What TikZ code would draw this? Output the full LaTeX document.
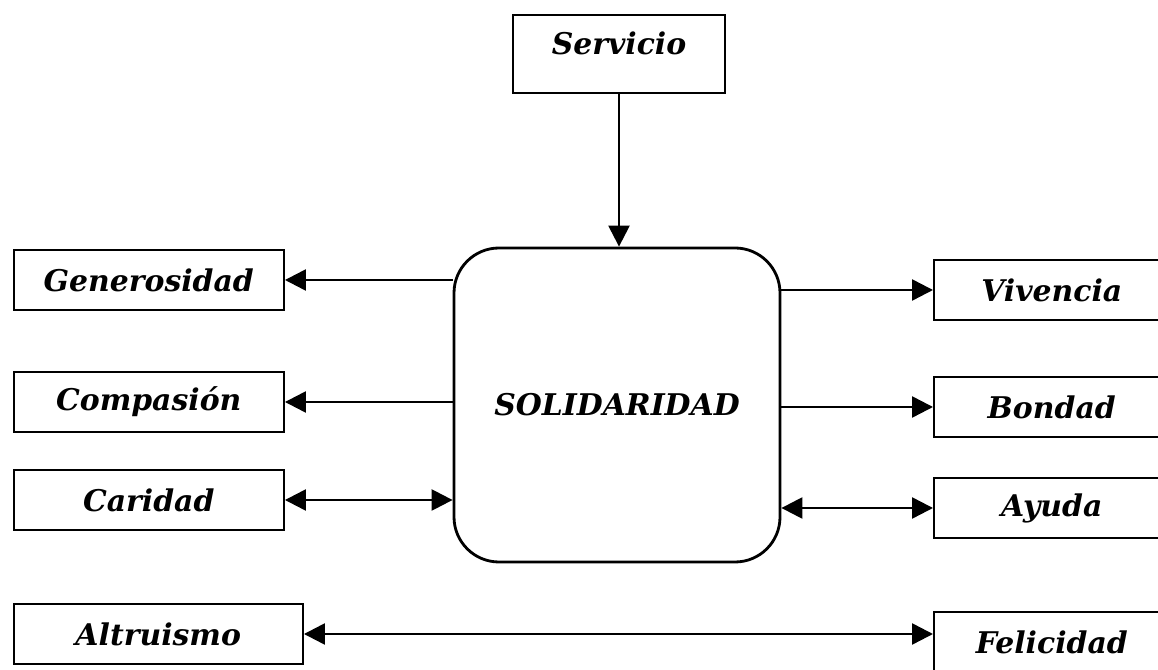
\documentclass[tikz,border=0pt]{standalone}
\usepackage{fontspec}
\setmainfont{DejaVu Serif}
\usepackage{tikz}
\usetikzlibrary{arrows.meta}
\usetikzlibrary{positioning}

\begin{document}
\begin{tikzpicture}[
	>={Triangle[length=0.42cm,width=0.42cm]},
	every node/.style={font=\fontsize{17}{20}\selectfont\bfseries\itshape},
	word/.style={draw,line width=1.4pt,minimum height=1.2cm,inner sep=0pt,anchor=west},
	core/.style={draw,line width=1.6pt,rounded corners=0.9cm,minimum width=6.52cm,minimum height=6.28cm},
	line width=1.4pt]
	\useasboundingbox (0,0) rectangle (23.16,13.4);
	         \node[draw,line width=1.4pt,minimum width=4.24cm,inner sep=0pt,text height=0.8cm,text depth=0.76cm] (servicio) at (12.38,12.32) {Servicio};
	         \node[core] (solidaridad) at (12.34,5.3) {SOLIDARIDAD};
	         \node[word,minimum width=5.4cm] (generosidad) at (0.25,7.8) {Generosidad};
	         \node[word,minimum width=5.4cm] (compasion) at (0.25,5.36) {Compasión};
	         \node[word,minimum width=5.4cm] (caridad) at (0.25,3.4) {Caridad};
	         \node[word,minimum width=5.78cm] (altruismo) at (0.25,0.72) {Altruismo};
	         \node[word,minimum width=4.7cm] (vivencia) at (18.66,7.6) {Vivencia};
	         \node[word,minimum width=4.7cm] (bondad) at (18.66,5.26) {Bondad};
	         \node[word,minimum width=4.7cm] (ayuda) at (18.66,3.24) {Ayuda};
	         \node[word,minimum width=4.7cm] (felicidad) at (18.66,0.56) {Felicidad};
	         \draw[->] (servicio) -- (servicio |- solidaridad.north);
	         \draw[->] (solidaridad.west |- generosidad) -- (generosidad);
	         \draw[->] (solidaridad.west |- compasion) -- (compasion);
	         \draw[<->] (caridad) -- (caridad -| solidaridad.west);
	         \draw[->] (solidaridad.east |- vivencia) -- (vivencia);
	         \draw[->] (solidaridad.east |- bondad) -- (bondad);
	         \draw[<->] (ayuda -| solidaridad.east) -- (ayuda);
	         \draw[<->] (altruismo) -- (altruismo -| felicidad.west);
	     \end{tikzpicture}
\end{document}
